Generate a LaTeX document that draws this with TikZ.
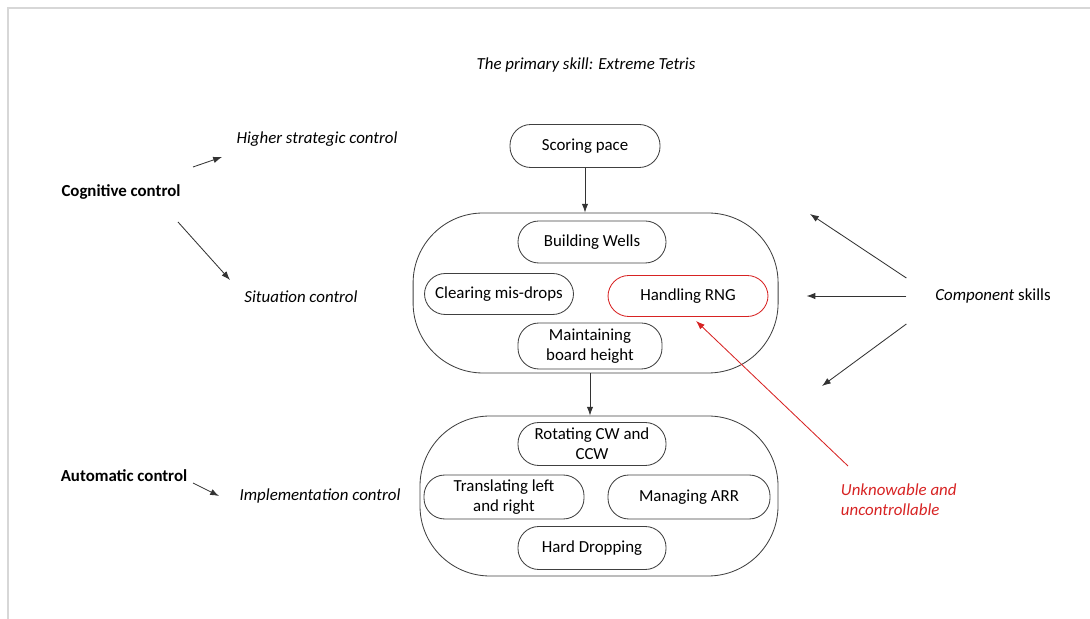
\documentclass[tikz,border=0pt]{standalone}
\usepackage{fontspec}
\setmainfont{Carlito}
\usepackage{xcolor}
\usepackage{tikz}
\usetikzlibrary{arrows.meta, positioning}

\definecolor{rngred}{RGB}{215,35,35}
\definecolor{framegray}{RGB}{215,215,215}

\begin{document}
\begin{tikzpicture}[
    font=\fontsize{12}{14}\selectfont,
    skillbox/.style={draw=black!75, line width=0.6pt, rounded corners=0.52cm, align=center, inner sep=1pt},
    groupbox/.style={draw=black!75, line width=0.6pt, rounded corners=1.75cm},
    arr/.style={-{Latex[length=2.2mm, width=1.6mm]}, black!80, line width=0.6pt},
    redarr/.style={-{Latex[length=2.2mm, width=1.6mm]}, rngred, line width=0.6pt},
    ]
    \useasboundingbox (0,0) rectangle (27.25,15.475);

    % Slide frame
    \draw[framegray, line width=1pt] (0.2,0) -- (0.2,15.275) -- (27.25,15.275);

    % Title
    \node[font=\fontsize{12}{14}\selectfont\itshape] (title) at (14.65,13.85) {The primary skill: Extreme Tetris};

    % Top level skill
    \node[skillbox, minimum width=3.75cm, minimum height=1.075cm] (score) at (14.625,11.825) {Scoring pace};

    % Group boxes
    \node[groupbox, minimum width=9.125cm, minimum height=4cm] (sit) at (14.89,8.15) {};
    \node[groupbox, minimum width=8.95cm, minimum height=4cm] (impl) at (14.975,3.075) {};

    % Situation control skills
    \node[skillbox, minimum width=3.7cm, minimum height=1.05cm] (wells) at (14.8,9.425) {Building Wells};
    \node[skillbox, minimum width=3.725cm, minimum height=1.025cm] (clear) at (12.475,8.125) {Clearing mis-drops};
    \node[skillbox, draw=rngred, minimum width=4cm, minimum height=1.025cm] (rng) at (17.2,8.075) {Handling RNG};
    \node[skillbox, minimum width=3.6cm, minimum height=1.15cm] (maint) at (14.75,6.825) {Maintaining\\board height};

    % Implementation control skills
    \node[skillbox, minimum width=3.7cm, minimum height=1.075cm] (rot) at (14.8,4.375) {Rotating CW and\\CCW};
    \node[skillbox, minimum width=4cm, minimum height=1.1cm] (trans) at (12.6,3.05) {Translating left\\and right};
    \node[skillbox, minimum width=4.05cm, minimum height=1.1cm] (manage) at (17.225,3.05) {Managing ARR};
    \node[skillbox, minimum width=3.7cm, minimum height=1.075cm] (hard) at (14.8,1.775) {Hard Dropping};

    % Vertical connectors
    \draw[arr] (score.south) -- (score.south |- sit.north);
    \draw[arr] (maint.south |- sit.south) -- (maint.south |- impl.north);

    % Control levels
    \node[font=\fontsize{12}{14}\selectfont\bfseries] (cog) at (3.025,10.675) {Cognitive control};
    \node[font=\fontsize{12}{14}\selectfont\bfseries] (auto) at (3.1,3.575) {Automatic control};
    \node[font=\fontsize{12}{14}\selectfont\itshape] (high) at (7.925,12.0) {Higher strategic control};
    \node[font=\fontsize{12}{14}\selectfont\itshape] (situ) at (7.525,8.05) {Situation control};
    \node[font=\fontsize{12}{14}\selectfont\itshape] (implc) at (8.0,3.075) {Implementation control};

    \coordinate (cogA) at (4.825,11.3);
    \coordinate (cogB) at (5.55,11.55);
    \coordinate (cogC) at (4.45,9.925);
    \coordinate (cogD) at (5.75,8.475);
    \coordinate (autoA) at (4.825,3.4);
    \coordinate (autoB) at (5.475,3.075);
    \draw[arr] (cogA) -- (cogB);
    \draw[arr] (cogC) -- (cogD);
    \draw[arr] (autoA) -- (autoB);

    % Component skills
    \node (comp) at (24.825,8.075) {\textit{Component} skills};
    \coordinate (compUp) at (20.25,10.125);
    \coordinate (compDown) at (20.55,5.825);
    \draw[arr] ([xshift=-0.6cm, yshift=0.45cm]comp.west) -- (compUp);
    \draw[arr, shorten <=0.6cm, shorten >=0.7cm] (comp.west) -- (comp.west -| sit.east);
    \draw[arr] ([xshift=-0.6cm, yshift=-0.7cm]comp.west) -- (compDown);

    % Unknowable note
    \node[anchor=west, align=left, text=rngred, font=\fontsize{12}{14}\selectfont\itshape] (unk) at (20.9,2.975) {Unknowable and\\uncontrollable};
    \coordinate (unkA) at (21.2,3.825);
    \draw[redarr] (unkA) -- ([xshift=0.2cm, yshift=-0.1cm]rng.south);
\end{tikzpicture}
\end{document}
